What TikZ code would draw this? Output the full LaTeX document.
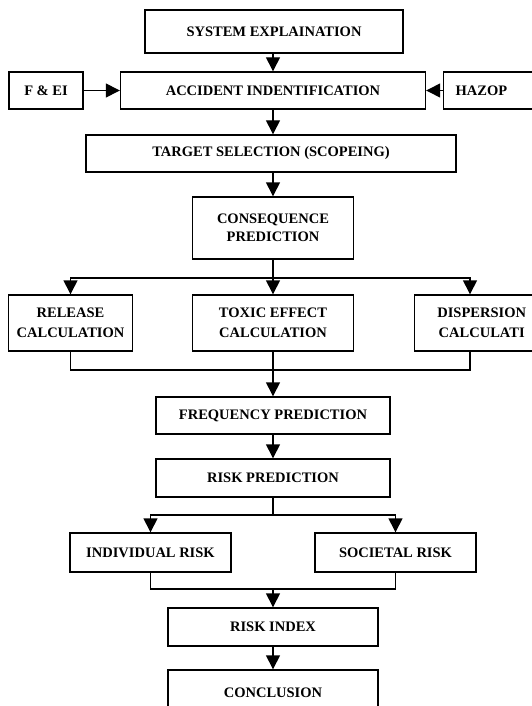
\documentclass[tikz,border=0pt]{standalone}
\usepackage{fontspec}
\setmainfont{Liberation Serif}
\usepackage{tikz}
\usetikzlibrary{arrows.meta,positioning}
\tikzstyle{block} = [draw, line width=1.4pt, text centered, align=center, font=\fontsize{14.5}{18}\selectfont\bfseries, inner sep=2pt]
\tikzstyle{arr} = [line width=1.4pt, -{Triangle[width=14pt,length=14pt]}]
\tikzstyle{link} = [line width=1.4pt]

\begin{document}
\begin{tikzpicture}[x=1pt,y=-1pt]
	\useasboundingbox (0,0) rectangle (532,706);
	\clip (0,0) rectangle (532,706);
	% boxes
	\node[block, minimum width=258, minimum height=43] (sys) at (274,31.5) {SYSTEM EXPLAINATION};
	\node[block, minimum width=305, minimum height=37] (acc) at (273,90.5) {ACCIDENT INDENTIFICATION};
	\node[block, minimum width=74, minimum height=37] (fei) at (46,90.5) {F \& EI};
	\node[block, anchor=west, minimum height=37, text width=96, align=left, inner xsep=12] (hazop) at (443,90.5) {HAZOP};
	\node[block, minimum width=370, minimum height=37] (ts) at (271,153.5) {TARGET SELECTION (SCOPEING)};
	\node[block, minimum width=161, minimum height=62] (cons) at (273,228) {CONSEQUENCE\\PREDICTION};
	\node[block, minimum width=124, minimum height=56] (rel) at (70.5,323) {RELEASE\\[2pt]CALCULATION};
	\node[block, minimum width=161, minimum height=56] (tox) at (273,323) {TOXIC EFFECT\\[2pt]CALCULATION};
	\node[block, anchor=west, minimum height=56, text width=100, inner xsep=17] (disp) at (414,323) {DISPERSION\\[2pt]CALCULATI};
	\node[block, minimum width=234, minimum height=37] (freq) at (273,415.5) {FREQUENCY PREDICTION};
	\node[block, minimum width=234, minimum height=38] (riskp) at (273,478) {RISK PREDICTION};
	\node[block, minimum width=161, minimum height=39] (ind) at (150.5,552.5) {INDIVIDUAL RISK};
	\node[block, minimum width=161, minimum height=39] (soc) at (395.5,552.5) {SOCIETAL RISK};
	\node[block, minimum width=210, minimum height=38] (idx) at (273,627) {RISK INDEX};
	\node[block, minimum width=210, minimum height=46] (concl) at (273,693) {CONCLUSION};
	% junctions
	\coordinate (b1) at (273,278);
	\coordinate (m1) at (273,370);
	\coordinate (b2) at (273,515);
	\coordinate (m2) at (273,589);
	\coordinate (dtop) at ([xshift=56]disp.north west);
	\coordinate (dbot) at ([xshift=56]disp.south west);
	% connectors
	\draw[arr] (sys.south -| acc.north) -- (acc);
	\draw[arr] (fei) -- (acc);
	\draw[arr] (hazop) -- (acc);
	\draw[arr] (acc) -- (acc.south |- ts.north);
	\draw[arr] (ts.south -| cons.north) -- (cons);
	\draw[link] (cons) -- (b1);
	\draw[arr] (b1) -| (rel.north);
	\draw[arr] (b1) -- (tox);
	\draw[arr] (b1) -| (dtop);
	\draw[link] (rel.south) |- (m1);
	\draw[link] (dbot) |- (m1);
	\draw[arr] (tox) -- (freq);
	\draw[arr] (freq) -- (riskp);
	\draw[link] (riskp) -- (b2);
	\draw[arr] (b2) -| (ind.north);
	\draw[arr] (b2) -| (soc.north);
	\draw[link] (ind.south) |- (m2);
	\draw[link] (soc.south) |- (m2);
	\draw[arr] (m2) -- (idx);
	\draw[arr] (idx) -- (concl);
\end{tikzpicture}
\end{document}
